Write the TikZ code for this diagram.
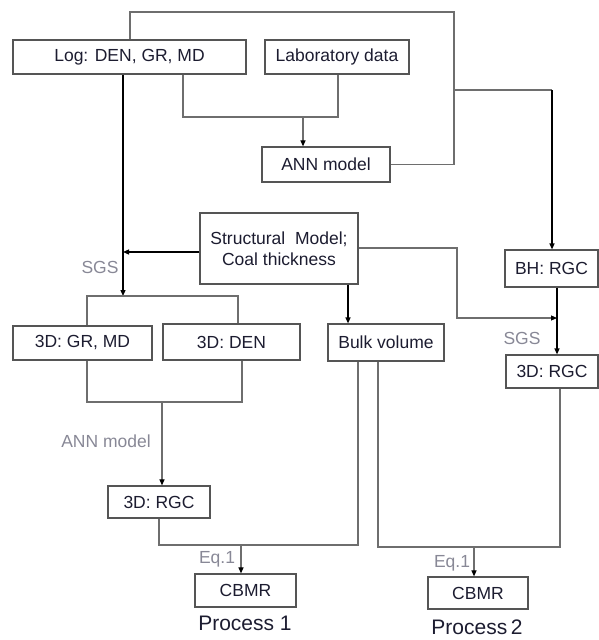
\documentclass[tikz,border=0pt]{standalone}
\usepackage{fontspec}
\setmainfont{Liberation Sans}
\usetikzlibrary{arrows.meta}
\definecolor{boxline}{HTML}{555555}
\definecolor{conn}{HTML}{6E6E6E}
\definecolor{txt}{HTML}{1C1C30}
\definecolor{lbl}{HTML}{888896}
\begin{document}
\begin{tikzpicture}[x=1pt,y=-1pt,
  box/.style={draw=boxline, line width=1.2pt, inner sep=0pt, align=center, text=txt,
    font=\fontsize{17.5}{21}\selectfont},
  gline/.style={draw=conn, line width=1.1pt},
  bline/.style={draw=black, line width=1.2pt},
  tip/.style={-{Triangle[length=6pt,width=5pt,color=black]}},
  lab/.style={text=lbl, inner sep=0pt, font=\fontsize{17.5}{21}\selectfont},
  proc/.style={text=txt, inner sep=0pt, font=\fontsize{21}{24}\selectfont}]
\useasboundingbox (0,0) rectangle (599,640);
% boxes
\node[box, minimum width=233pt, minimum height=34pt] (log) at (129.5,57) {Log: DEN, GR, MD};
\node[box, minimum width=144pt, minimum height=34pt] (labd) at (337,57) {Laboratory data};
\node[box, minimum width=128pt, minimum height=35pt] (ann) at (326,164.5) {ANN model};
\node[box, minimum width=158pt, minimum height=71pt] (struct) at (279,248.5) {Structural\ \ Model;\\Coal thickness};
\node[box, minimum width=93pt, minimum height=37pt] (bh) at (551.5,268.5) {BH: RGC};
\node[box, minimum width=139pt, minimum height=34pt] (gr) at (82.5,343) {3D: GR, MD};
\node[box, minimum width=137pt, minimum height=36pt] (den) at (231.5,342) {3D: DEN};
\node[box, minimum width=116pt, minimum height=37pt] (bulk) at (386,342.5) {Bulk volume};
\node[box, minimum width=92pt, minimum height=33pt] (rgcb) at (552,371.5) {3D: RGC};
\node[box, minimum width=102pt, minimum height=32pt] (rgca) at (159,502) {3D: RGC};
\node[box, minimum width=101pt, minimum height=33pt] (cbmra) at (245.5,590.5) {CBMR};
\node[box, minimum width=100pt, minimum height=32pt] (cbmrb) at (478,593) {CBMR};
% labels
\node[lab] (sgsa) at (100,267) {SGS};
\node[lab] (sgsb) at (522,338) {SGS};
\node[lab] (annl) at (106,441) {ANN model};
\node[lab] (eqa) at (217,559) {Eq.1};
\node[lab] (eqb) at (452,563) {Eq.1};
\node[proc] (pa) at (245,623) {Process 1};
\node[proc] (pb) at (477,627) {Process\,2};
% junction coordinates
\coordinate (jtop) at (454,90);
\coordinate (jlab) at (303,117);
\coordinate (jsgs) at (123,252);
\coordinate (jtree) at (87,296);
\coordinate (jtreeR) at (238,296);
\coordinate (jbot) at (162,402);
\coordinate (jbh) at (557,318);
\coordinate (jeqa) at (241,545);
\coordinate (jeqb) at (474,547);
% connectors
\draw[gline] (130,0 |- log.north) -- (130,12) -- (454,12) -- (454,0 |- ann.east) -- (ann.east);
\draw[gline] (jtop) -- (552,90);
\draw[bline, tip] (552,90) -- (552,0 |- bh.north);
\draw[gline] (183,0 |- log.south) -- (183,117) -- (338,117) -- (338,0 |- labd.south);
\draw[gline, tip] (jlab) -- (303,0 |- ann.north);
\draw[bline, tip] (123,0 |- log.south) -- (jsgs) -- (123,296);
\draw[bline, tip] (struct.west |- jsgs) -- (jsgs);
\draw[gline] (87,0 |- gr.north) -- (jtree) -- (jtreeR) -- (238,0 |- den.north);
\draw[gline] (87,0 |- gr.south) -- (87,402) -- (242,402) -- (242,0 |- den.south);
\draw[gline, tip] (jbot) -- (162,0 |- rgca.north);
\draw[gline, tip] (struct.east |- 0,248) -- (457,248) -- (457,318) -- (jbh);
\draw[bline, tip] (557,0 |- bh.south) -- (557,0 |- rgcb.north);
\draw[bline, tip] (348,0 |- struct.south) -- (348,0 |- bulk.north);
\draw[gline] (159,0 |- rgca.south) -- (159,545) -- (358,545) -- (358,0 |- bulk.south);
\draw[gline, tip] (jeqa) -- (241,0 |- cbmra.north);
\draw[gline] (378,0 |- bulk.south) -- (378,547) -- (560,547) -- (560,0 |- rgcb.south);
\draw[gline, tip] (jeqb) -- (474,0 |- cbmrb.north);
\end{tikzpicture}
\end{document}
